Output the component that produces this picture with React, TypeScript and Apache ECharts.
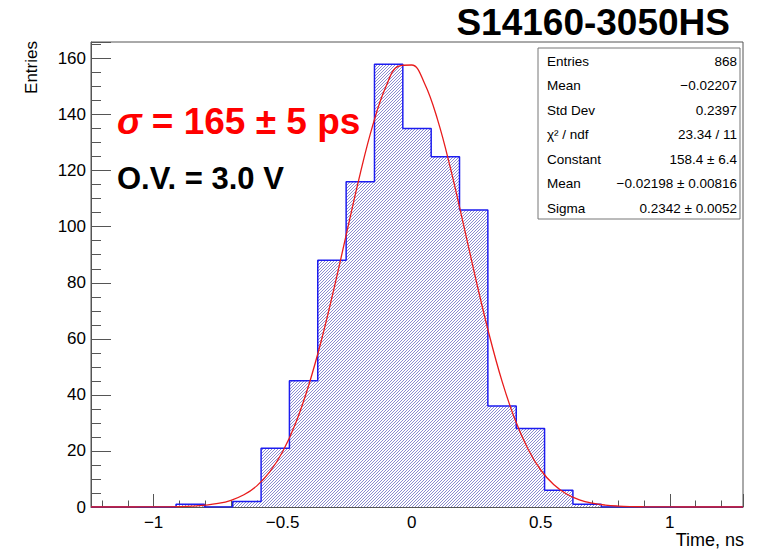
import React, { useEffect, useRef } from "react";
import * as echarts from "echarts";

// Histogram bin edges (23 bins) and counts
const binEdges = [
  -1.2424, -1.1326, -1.0227, -0.9129, -0.8031, -0.6932, -0.5834, -0.4736,
  -0.3638, -0.2539, -0.1441, -0.0343, 0.0756, 0.1854, 0.2952, 0.4051,
  0.5149, 0.6247, 0.7345, 0.8444, 0.9542, 1.064, 1.1739, 1.2837,
];
const binCounts = [0, 0, 0, 1, 0, 2, 21, 45, 88, 116, 158, 135, 125, 106, 36, 28, 6, 1, 0, 0, 0, 0, 0];

// Gaussian fit curve
const fitX = [
  -1.2424, -1.15, -1.1, -1.05, -1.0, -0.95, -0.9, -0.85, -0.8, -0.75, -0.7, -0.65, -0.6,
  -0.55, -0.5, -0.45, -0.4, -0.35, -0.3, -0.25, -0.2, -0.15, -0.1, -0.05, 0.0,
  0.05, 0.1, 0.15, 0.2, 0.25, 0.3, 0.35, 0.4, 0.45, 0.5, 0.55, 0.6, 0.65, 0.7, 0.75,
  0.8, 0.85, 0.9, 0.95, 1.0, 1.1, 1.2837,
];
const fitY = [
  0, 0, 0, 0.01, 0.03, 0.06, 0.14, 0.31, 0.64, 1.26, 2.4, 4.35, 7.54,
  12.5, 19.7, 29.8, 43.1, 59.4, 78.3, 98.6, 118.7, 136.4, 149.9, 157.3, 157.7,
  151.1, 138.3, 121.0, 101.1, 80.7, 61.6, 44.9, 31.3, 20.8, 13.2, 8.0, 4.66, 2.58, 1.37, 0.69,
  0.33, 0.15, 0.07, 0.03, 0.01, 0, 0,
];

const yMax = 165.9;
const yInterval = 20;

const statLabels = ["Entries", "Mean", "Std Dev", "χ² / ndf", "Constant", "Mean", "Sigma"];
const statValues = ["868", "−0.02207", "0.2397", "23.34 / 11", "158.4 ± 6.4", "−0.02198 ± 0.00816", "0.2342 ± 0.0052"];

const titleText = "S14160-3050HS";
const sigmaSymbol = "σ";
const sigmaRest = " = 165 ± 5 ps";
const ovText = "O.V. = 3.0 V";
const xTitle = "Time, ns";
const yTitle = "Entries";

const FONT = "'Liberation Sans', Arial, Helvetica, sans-serif";
const AXIS = "#555";

function fmtMinus(v: number): string {
  const s = String(Math.round(v * 1000) / 1000);
  return s.startsWith("-") ? "−" + s.slice(1) : s;
}

function makeHatch(): HTMLCanvasElement {
  const c = document.createElement("canvas");
  c.width = 6;
  c.height = 6;
  const ctx = c.getContext("2d")!;
  ctx.fillStyle = "#ffffff";
  ctx.fillRect(0, 0, 6, 6);
  ctx.fillStyle = "#8c8cd0";
  for (let x = 0; x < 6; x++) {
    for (let y = 0; y < 6; y++) {
      if ((x + y) % 3 === 0) ctx.fillRect(x, y, 1, 1);
    }
  }
  return c;
}

export default function App() {
  const ref = useRef<HTMLDivElement>(null);

  useEffect(() => {
    document.body.style.margin = "0";
    if (!ref.current) return;
    const chart = echarts.init(ref.current, undefined, { renderer: "svg" });

    const stepPts: number[][] = [];
    stepPts.push([binEdges[0], 0]);
    for (let i = 0; i < binCounts.length; i++) {
      stepPts.push([binEdges[i], binCounts[i]]);
      stepPts.push([binEdges[i + 1], binCounts[i]]);
    }
    stepPts.push([binEdges[binEdges.length - 1], 0]);

    const fitPts = fitX.map((x, i) => [x, fitY[i]]);

    const hatch = makeHatch();

    const boxX = 538, boxY = 48, boxW = 202, boxH = 171;
    const rowY0 = 61, rowStep = 24.5;
    const statTexts: any[] = [];
    statLabels.forEach((lab, i) => {
      statTexts.push({
        type: "text",
        x: boxX + 9,
        y: rowY0 + i * rowStep,
        style: { text: lab, fontSize: 13.5, fontFamily: FONT, fill: "#000", align: "left", verticalAlign: "middle" },
        z: 101,
      });
      statTexts.push({
        type: "text",
        x: boxX + boxW - 3,
        y: rowY0 + i * rowStep,
        style: { text: statValues[i], fontSize: 13.5, fontFamily: FONT, fill: "#000", align: "right", verticalAlign: "middle" },
        z: 101,
      });
    });

    const option: any = {
      animation: false,
      backgroundColor: "#ffffff",
      textStyle: { fontFamily: FONT },
      grid: {
        left: 91,
        top: 42,
        right: 14,
        bottom: 42,
        show: true,
        borderColor: AXIS,
        borderWidth: 1,
        containLabel: false,
      },
      xAxis: {
        type: "value",
        min: binEdges[0],
        max: binEdges[binEdges.length - 1],
        splitNumber: 5,
        minInterval: 0.5,
        maxInterval: 0.5,
        axisLine: { show: true, onZero: false, lineStyle: { color: AXIS, width: 1 } },
        axisTick: { show: true, inside: true, length: 13, lineStyle: { color: AXIS } },
        minorTick: { show: true, splitNumber: 5, length: 6.5, lineStyle: { color: AXIS } },
        axisLabel: {
          showMinLabel: false,
          showMaxLabel: false,
          color: "#000",
          fontSize: 17,
          fontFamily: FONT,
          margin: 7,
          formatter: (v: number) => fmtMinus(v),
        },
        splitLine: { show: false },
      },
      yAxis: {
        type: "value",
        min: 0,
        max: yMax,
        interval: yInterval,
        axisLine: { show: true, onZero: false, lineStyle: { color: AXIS, width: 1 } },
        axisTick: { show: true, inside: true, length: 20, lineStyle: { color: AXIS } },
        minorTick: { show: true, splitNumber: 4, length: 10, lineStyle: { color: AXIS } },
        axisLabel: {
          showMaxLabel: false,
          color: "#000",
          fontSize: 17,
          fontFamily: FONT,
          margin: 5,
          formatter: (v: number) => fmtMinus(v),
        },
        splitLine: { show: false },
      },
      series: [
        {
          type: "line",
          name: "hist",
          data: stepPts,
          symbol: "none",
          lineStyle: { color: "#1c1cf0", width: 1.5 },
          areaStyle: {
            color: { image: hatch, repeat: "repeat", imageWidth: 6, imageHeight: 6 },
            opacity: 1,
          },
          z: 2,
        },
        {
          type: "line",
          name: "fit",
          data: fitPts,
          symbol: "none",
          smooth: 0.4,
          lineStyle: { color: "#e81c1c", width: 1.3 },
          z: 3,
        },
      ],
      graphic: [
        {
          type: "text",
          x: 730,
          y: 22,
          style: { text: titleText, fontSize: 37, fontWeight: "bold", fontFamily: FONT, fill: "#000", align: "right", verticalAlign: "middle" },
        },
        {
          type: "text",
          x: 117,
          y: 121,
          style: {
            text: "{g|" + sigmaSymbol + "}{t|" + sigmaRest + "}",
            fill: "#ff0000",
            align: "left",
            verticalAlign: "middle",
            rich: {
              g: { fontSize: 37, fontWeight: "bold", fontStyle: "italic", fontFamily: FONT, fill: "#ff0000", color: "#ff0000" },
              t: { fontSize: 37, fontWeight: "bold", fontFamily: FONT, fill: "#ff0000", color: "#ff0000" },
            },
          },
          z: 100,
        },
        {
          type: "text",
          x: 117,
          y: 178,
          style: { text: ovText, fontSize: 31, fontWeight: "bold", fontFamily: FONT, fill: "#000", align: "left", verticalAlign: "middle" },
          z: 100,
        },
        {
          type: "text",
          x: 31,
          y: 41,
          rotation: Math.PI / 2,
          style: { text: yTitle, fontSize: 17, fontFamily: FONT, fill: "#000", align: "right", verticalAlign: "middle" },
        },
        {
          type: "text",
          x: 744,
          y: 540,
          style: { text: xTitle, fontSize: 18, fontFamily: FONT, fill: "#000", align: "right", verticalAlign: "middle" },
        },
        {
          type: "rect",
          shape: { x: boxX, y: boxY, width: boxW, height: boxH },
          style: { fill: "#ffffff", stroke: "#777", lineWidth: 1 },
          z: 100,
        },
        ...statTexts,
      ],
    };

    chart.setOption(option);
    return () => chart.dispose();
  }, []);

  return <div ref={ref} style={{ width: 757, height: 549 }} />;
}
